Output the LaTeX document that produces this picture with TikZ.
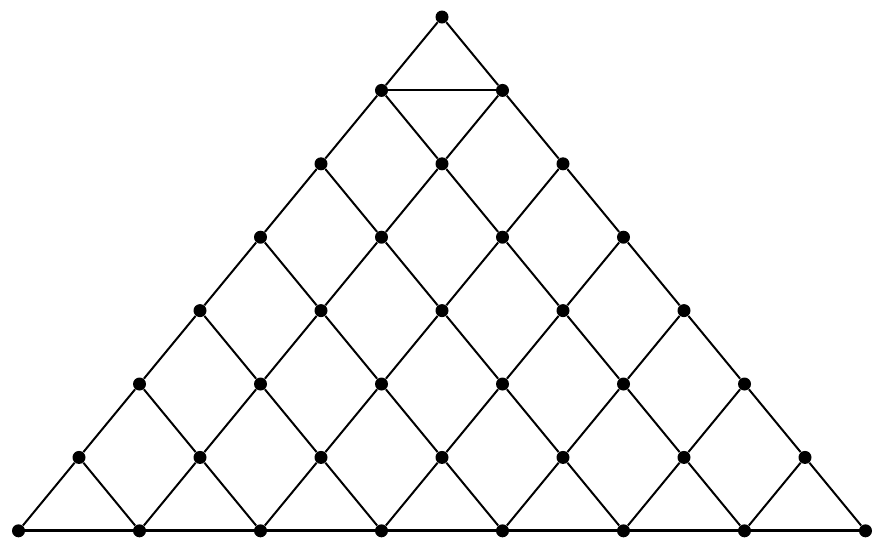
\documentclass[tikz,border=0pt]{standalone}
\begin{document}
\begin{tikzpicture}[x=0.5pt, y=-0.5pt, dot/.style={circle, fill=black, inner sep=0pt, minimum size=6.5pt}, edge/.style={line width=1pt}]
	\useasboundingbox (0,0) rectangle (879,543);
	\foreach \r in {0,...,7} \foreach \k in {0,...,\r} \node [dot] (n-\r-\k) at ({442+60.5*(2*\k-\r)},{17+73.4*\r}) {};
	\foreach \r in {0,...,6} \foreach \k in {0,...,\r} {
		\pgfmathtruncatemacro{\s}{\r+1}
		\pgfmathtruncatemacro{\j}{\k+1}
		\draw [edge] (n-\r-\k) -- (n-\s-\k) (n-\r-\k) -- (n-\s-\j);
	}
	\draw [edge] (n-1-0) -- (n-1-1);
	\draw [line width=1.5pt] (n-7-0.center) -- (n-7-7.center);
\end{tikzpicture}
\end{document}
